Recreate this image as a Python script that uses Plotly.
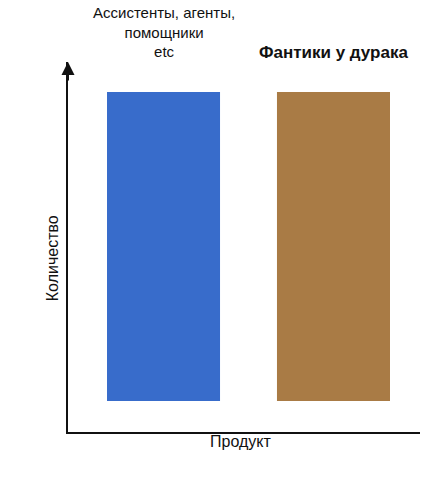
import plotly.graph_objects as go

products = [0, 1]
values = [10, 10]
bases = [1, 1]
colors = ["#386ccb", "#a97b45"]

fig = go.Figure(go.Bar(x=products, y=values, base=bases, width=0.665,
                       marker=dict(color=colors, line=dict(width=0))))

fig.update_layout(
    width=432, height=480, plot_bgcolor="white", paper_bgcolor="white",
    margin=dict(l=60, r=20, t=54, b=56), showlegend=False,
    font=dict(family="Liberation Sans, Arial", color="#111"),
)
fig.update_xaxes(range=[-0.562, 1.509], showticklabels=False, showgrid=False,
                 zeroline=False, showline=True, linecolor="#111", linewidth=2)
fig.update_yaxes(range=[0, 11.97], showticklabels=False, showgrid=False,
                 zeroline=False, showline=True, linecolor="#111", linewidth=2)

# arrow on y axis
fig.add_annotation(x=0, y=1.0, xref="paper", yref="paper", ax=0, ay=20,
                   showarrow=True, arrowhead=2, arrowsize=1.3, arrowwidth=2,
                   arrowcolor="#111", text="")

fig.add_annotation(x=0, y=1.0, xref="x", yref="paper", yanchor="bottom",
                   text="Ассистенты, агенты,<br>помощники<br>etc",
                   showarrow=False, font=dict(size=15))
fig.add_annotation(x=1, y=0.995, xref="x", yref="paper", yanchor="bottom",
                   text="<b>Фантики у дурака</b>",
                   showarrow=False, font=dict(size=17))
fig.add_annotation(x=-0.075, y=0.47, xref="paper", yref="paper",
                   text="Количество", textangle=-90, showarrow=False,
                   font=dict(size=16))
fig.add_annotation(x=0.49, y=-0.055, xref="paper", yref="paper",
                   text="Продукт", showarrow=False, font=dict(size=16))

fig.write_html("out.html")
